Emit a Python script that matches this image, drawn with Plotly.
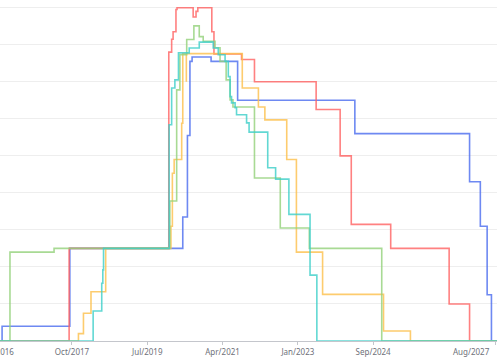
import plotly.graph_objects as go

# x = period index (0 = Jan/2016, one unit per month-ish category), y = value
tick_pos = [21, 42, 63, 84, 105]
tick_text = ["Oct/2017", "Jul/2019", "Apr/2021", "Jan/2023", "Sep/2024"]
first_label = "Jan/2016"
last_label = "Aug/2027"
x_min, x_max = 0.92, 139.55

blue_x = [0, 1.5, 20.4, 51.9, 53.2, 53.9, 54.5, 59.8, 67.2, 99.9, 131.9, 134.9, 136.8, 138.0, 140]
blue_y = [0, 4, 25, 33.5, 55.5, 75.5, 76.7, 75.5, 65, 56, 43, 31, 12.5, 0, 0]

green_x = [0, 3.7, 16.0, 48.3, 50.2, 51.1, 53.0, 55.0, 56.5, 57.6, 60.9, 62.3, 64.0, 65.1, 65.9, 71.9, 79.1, 87.2, 107.4, 140]
green_y = [0, 24, 25, 37.8, 67.8, 77.3, 81.4, 85.1, 82.2, 80.9, 79.2, 75.5, 70.5, 65.1, 63.2, 44, 30.5, 25, 0, 0]

yellow_x = [0, 22.8, 24.2, 26.3, 30.4, 48.6, 49.0, 49.5, 51.6, 51.9, 52.9, 52.9, 68.5, 73.0, 74.8, 80.9, 83.6, 90.9, 107.9, 115.4, 140]
yellow_y = [0, 2, 7.5, 13.3, 25, 31, 45.3, 49, 58.8, 77.6, 70, 77.6, 68.3, 63.2, 59.7, 49, 24, 12.6, 2.7, 0, 0]

red_x = [0, 20.2, 48.0, 48.8, 49.2, 50.0, 50.3, 54.8, 55.6, 56.1, 60.0, 60.6, 68.3, 71.9, 89.1, 95.8, 98.9, 109.9, 126.2, 131.9, 140]
red_y = [0, 25, 78, 81.5, 83.5, 89.5, 90, 87.5, 89, 90, 83.5, 77.5, 76, 70, 62.5, 50, 31.5, 25, 10, 0, 0]

cyan_x = [0, 26.9, 29.3, 29.6, 29.8, 48.1, 48.8, 49.7, 50.7, 53.7, 56.5, 60.4, 61.8, 63.7, 64.6, 65.1, 65.5, 66.5, 66.9, 69.7, 70.4, 75.6, 77.8, 81.5, 87.4, 89.3, 140]
cyan_y = [0, 8.1, 15.6, 19.2, 25, 58.4, 68.3, 70.5, 77.8, 79.1, 80.7, 79.1, 77.3, 75.5, 71.4, 66, 64.3, 63, 61.1, 58.9, 56.4, 46.8, 43.7, 34.2, 17.8, 0, 0]

series = [
    ("blue", blue_x, blue_y, "#4a6cf0"),
    ("red", red_x, red_y, "#ff6262"),
    ("yellow", yellow_x, yellow_y, "#fdc04a"),
    ("green", green_x, green_y, "#93d27a"),
    ("cyan", cyan_x, cyan_y, "#3ccfc9"),
]

fig = go.Figure()
for name, xs, ys, col in series:
    fig.add_trace(go.Scatter(
        x=xs, y=ys, mode="lines", name=name,
        line=dict(shape="hv", color=col, width=1.6),
        opacity=0.8, showlegend=False, hoverinfo="skip",
    ))

plot_w = 500 - 0 - 3
fig.update_layout(
    width=500, height=357,
    margin=dict(l=0, r=3, t=4, b=16),
    paper_bgcolor="white", plot_bgcolor="white",
    showlegend=False,
    xaxis=dict(
        range=[x_min, x_max], showgrid=False, zeroline=False,
        showline=True, linecolor="#c4c6cc", linewidth=1,
        ticks="outside", ticklen=3, tickcolor="#c4c6cc",
        tickvals=tick_pos + [139], ticktext=tick_text + [""],
        tickfont=dict(family="Noto Sans", size=8, color="#6e7079"),
        automargin=False,
    ),
    yaxis=dict(
        range=[0, 91], dtick=10, showgrid=True, gridcolor="#eeeeee",
        gridwidth=1, zeroline=False, showticklabels=False, automargin=False,
    ),
    annotations=[
        dict(text=first_label, xref="paper", yref="paper", x=-3 / plot_w, y=0,
             xanchor="center", yanchor="top", yshift=-3, showarrow=False,
             font=dict(family="Noto Sans", size=8, color="#6e7079")),
        dict(text=last_label, xref="paper", yref="paper", x=492 / plot_w, y=0,
             xanchor="right", yanchor="top", yshift=-3, showarrow=False,
             font=dict(family="Noto Sans", size=8, color="#6e7079")),
    ],
)

fig.write_html("out.html")
